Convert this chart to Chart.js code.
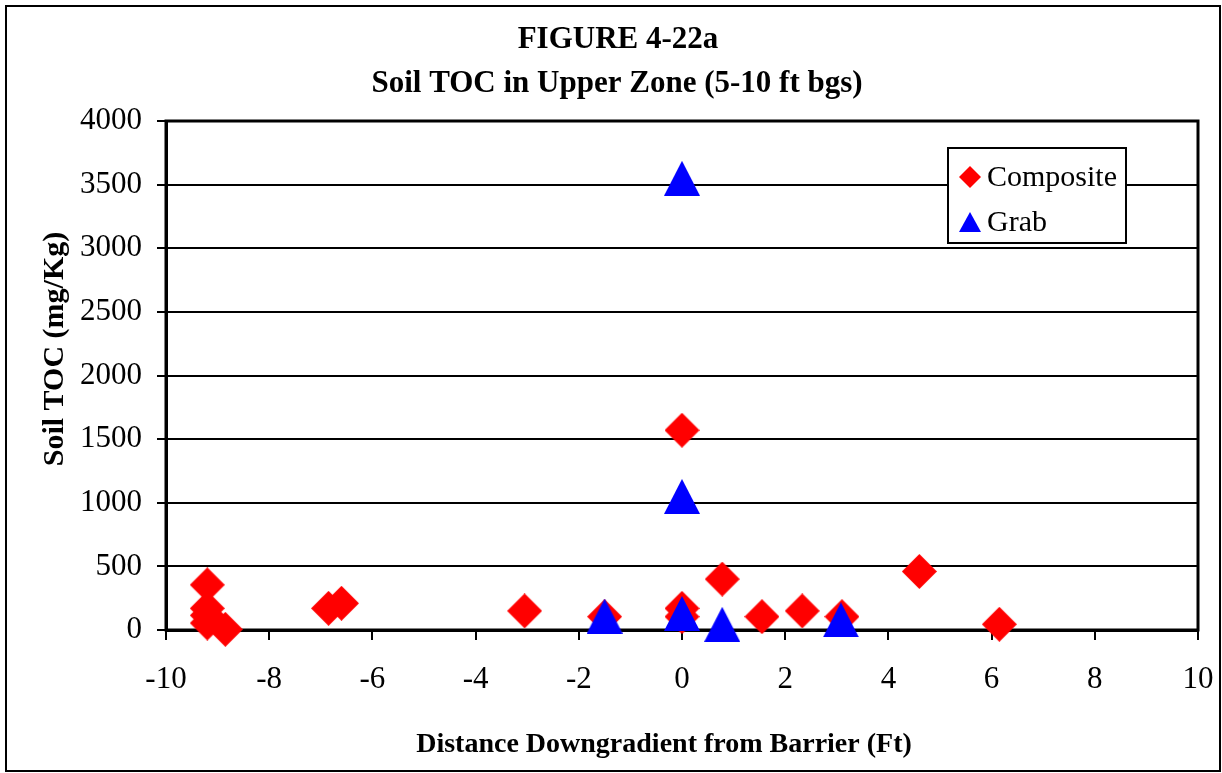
<!DOCTYPE html>
<html>
<head>
<meta charset="utf-8">
<script src="https://cdn.jsdelivr.net/npm/chart.js@4.4.0/dist/chart.umd.min.js"></script>
<style>
  body { margin: 0; background: #fff; }
  canvas { display: block; }
</style>
</head>
<body>
<canvas id="chart" width="1222" height="773"></canvas>
<script>
const FONT = '"Liberation Serif", "Times New Roman", serif';

// values
const compositeX = [-9.2, -9.2, -9.2, -9.2, -8.85, -6.85, -6.6, -3.05, -1.5, 0, 0, 0, 0.78, 1.55, 2.33, 3.1, 4.6, 6.15];
const compositeY = [355, 170, 115, 55, 5, 170, 210, 150, 105, 1570, 170, 105, 400, 105, 150, 105, 460, 45];
const grabX = [-1.5, 0, 0, 0, 0.78, 3.08];
const grabY = [110, 3550, 1050, 130, 45, 80];
const seriesNames = ['Composite', 'Grab'];
const titleLines = ['FIGURE 4-22a', 'Soil TOC in Upper Zone (5-10 ft bgs)'];
const xTitle = 'Distance Downgradient from Barrier (Ft)';
const yTitle = 'Soil TOC (mg/Kg)';

const makeMarker = (shape, w, h, color) => {
  const c = document.createElement('canvas');
  c.width = w;
  c.height = h;
  const g = c.getContext('2d');
  g.fillStyle = color;
  g.beginPath();
  if (shape === 'diamond') {
    g.moveTo(w / 2, 0);
    g.lineTo(w, h / 2);
    g.lineTo(w / 2, h);
    g.lineTo(0, h / 2);
  } else {
    g.moveTo(w / 2, 0);
    g.lineTo(w, h);
    g.lineTo(0, h);
  }
  g.closePath();
  g.fill();
  return c;
};

const diamond = makeMarker('diamond', 35, 35, '#ff0000');
const triangle = makeMarker('triangle', 36, 35, '#0000ff');
const diamondSmall = makeMarker('diamond', 22, 22, '#ff0000');
const triangleSmall = makeMarker('triangle', 22, 20, '#0000ff');

const toPoints = (xs, ys) => xs.map((x, i) => ({ x: x, y: ys[i] }));

const frame = {
  id: 'frame',
  beforeDatasetsDraw(chart) {
    const { ctx, chartArea: a } = chart;
    ctx.save();
    ctx.strokeStyle = '#000';
    ctx.lineWidth = 3;
    ctx.strokeRect(a.left, a.top, a.right - a.left, a.bottom - a.top);
    ctx.restore();
  },
  afterDraw(chart) {
    const ctx = chart.ctx;
    ctx.save();
    // outer border
    ctx.strokeStyle = '#000';
    ctx.lineWidth = 2;
    ctx.strokeRect(6, 6, 1214, 765);

    ctx.fillStyle = '#000';
    ctx.textAlign = 'center';
    ctx.textBaseline = 'middle';

    // chart title
    ctx.font = 'bold 31px ' + FONT;
    ctx.fillText(titleLines[0], 618, 40);
    ctx.fillText(titleLines[1], 617, 84);

    // axis titles
    ctx.font = 'bold 28px ' + FONT;
    ctx.fillText(xTitle, 664, 745);
    ctx.save();
    ctx.translate(55, 349);
    ctx.rotate(-Math.PI / 2);
    ctx.font = 'bold 30px ' + FONT;
    ctx.fillText(yTitle, 0, 0);
    ctx.restore();

    // legend box
    ctx.fillStyle = '#fff';
    ctx.fillRect(948, 148, 178, 95);
    ctx.lineWidth = 2;
    ctx.strokeRect(948, 148, 178, 95);
    ctx.drawImage(diamondSmall, 970 - 11, 177 - 11);
    ctx.drawImage(triangleSmall, 970 - 11, 222 - 10);
    ctx.fillStyle = '#000';
    ctx.font = '30px ' + FONT;
    ctx.textAlign = 'left';
    ctx.fillText(seriesNames[0], 987, 178);
    ctx.fillText(seriesNames[1], 987, 223);
    ctx.restore();
  }
};

new Chart(document.getElementById('chart'), {
  type: 'scatter',
  data: {
    datasets: [{
      label: seriesNames[0],
      data: toPoints(compositeX, compositeY),
      pointStyle: diamond,
      backgroundColor: '#ff0000',
      order: 2,
      clip: false
    }, {
      label: seriesNames[1],
      data: toPoints(grabX, grabY),
      pointStyle: triangle,
      backgroundColor: '#0000ff',
      order: 1,
      clip: false
    }]
  },
  options: {
    responsive: false,
    animation: false,
    layout: { padding: { left: 0, right: 24, top: 121, bottom: 0 } },
    plugins: {
      legend: { display: false },
      tooltip: { enabled: false },
      title: { display: false }
    },
    scales: {
      x: {
        type: 'linear',
        min: -10,
        max: 10,
        afterFit: (scale) => {
          scale.height = 143;
          scale.paddingLeft = 0;
          scale.paddingRight = 0;
        },
        ticks: {
          stepSize: 2,
          color: '#000',
          padding: 21,
          maxRotation: 0,
          font: { family: FONT, size: 31 }
        },
        grid: { drawOnChartArea: false, color: '#000', lineWidth: 2, tickLength: 10 },
        border: { color: '#000', width: 3 }
      },
      y: {
        min: 0,
        max: 4000,
        afterFit: (scale) => { scale.width = 166; },
        ticks: {
          stepSize: 500,
          color: '#000',
          padding: 15,
          font: { family: FONT, size: 31 },
          callback: (v) => String(v)
        },
        grid: { color: '#000', lineWidth: 2, tickLength: 9 },
        border: { color: '#000', width: 3 }
      }
    }
  },
  plugins: [frame]
});
</script>
</body>
</html>
